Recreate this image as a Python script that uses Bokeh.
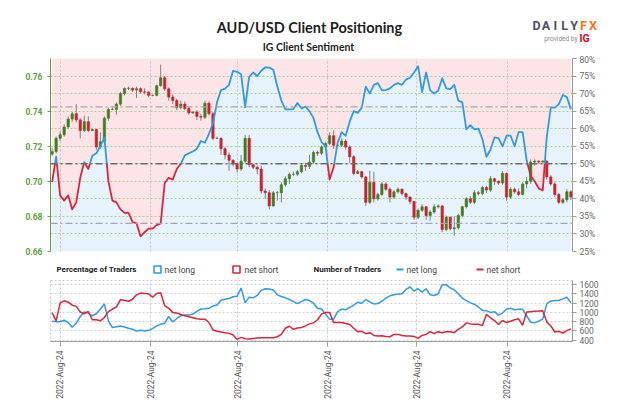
import numpy as np
from bokeh.plotting import figure
from bokeh.layouts import column
from bokeh.models import (Range1d, LinearAxis, FixedTicker, Span, Grid,
                          PrintfTickFormatter, NumeralTickFormatter)
from bokeh.core.properties import value
from bokeh.embed import file_html
from bokeh.resources import INLINE

# ---------------- data ----------------
open_ = [0.7155, 0.7170, 0.7245, 0.7265, 0.7310, 0.7355, 0.7385, 0.7350, 0.7290, 0.7340,
         0.7290, 0.7295, 0.7195, 0.7225, 0.7360, 0.7410, 0.7410, 0.7440, 0.7500, 0.7530,
         0.7530, 0.7520, 0.7528, 0.7510, 0.7508, 0.7490, 0.7490, 0.7545, 0.7590, 0.7527,
         0.7480, 0.7460, 0.7420, 0.7440, 0.7415, 0.7390, 0.7395, 0.7370, 0.7365, 0.7445,
         0.7385, 0.7245, 0.7245, 0.7185, 0.7150, 0.7120, 0.7100, 0.7070, 0.7115, 0.7245,
         0.7095, 0.7080, 0.7070, 0.6945, 0.6935, 0.6860, 0.6935, 0.6935, 0.6980, 0.7015,
         0.7040, 0.7040, 0.7055, 0.7090, 0.7085, 0.7110, 0.7165, 0.7160, 0.7195, 0.7215,
         0.7260, 0.7205, 0.7205, 0.7230, 0.7195, 0.7140, 0.7045, 0.7055, 0.7025, 0.6880,
         0.6995, 0.6900, 0.6925, 0.6985, 0.6955, 0.6910, 0.6940, 0.6955, 0.6930, 0.6910,
         0.6885, 0.6795, 0.6835, 0.6855, 0.6805, 0.6825, 0.6855, 0.6860, 0.6725, 0.6795,
         0.6730, 0.6735, 0.6805, 0.6855, 0.6900, 0.6880, 0.6935, 0.6930, 0.6965, 0.6950,
         0.7015, 0.7000, 0.6990, 0.7045, 0.6910, 0.6955, 0.6940, 0.6925, 0.6985, 0.7000,
         0.7110, 0.7115, 0.7110, 0.7115, 0.7025, 0.6985, 0.6925, 0.6880, 0.6895, 0.6940]
close = [0.7170, 0.7245, 0.7265, 0.7310, 0.7355, 0.7385, 0.7350, 0.7290, 0.7340, 0.7290,
         0.7295, 0.7195, 0.7225, 0.7360, 0.7410, 0.7410, 0.7440, 0.7500, 0.7530, 0.7530,
         0.7520, 0.7528, 0.7510, 0.7508, 0.7490, 0.7490, 0.7545, 0.7590, 0.7527, 0.7480,
         0.7460, 0.7420, 0.7440, 0.7415, 0.7390, 0.7395, 0.7370, 0.7365, 0.7445, 0.7385,
         0.7245, 0.7245, 0.7185, 0.7150, 0.7120, 0.7100, 0.7070, 0.7115, 0.7245, 0.7095,
         0.7080, 0.7070, 0.6945, 0.6935, 0.6860, 0.6935, 0.6935, 0.6980, 0.7015, 0.7040,
         0.7040, 0.7055, 0.7090, 0.7085, 0.7110, 0.7165, 0.7160, 0.7195, 0.7215, 0.7260,
         0.7205, 0.7205, 0.7230, 0.7195, 0.7140, 0.7045, 0.7055, 0.7025, 0.6880, 0.6995,
         0.6900, 0.6925, 0.6985, 0.6955, 0.6910, 0.6940, 0.6955, 0.6930, 0.6910, 0.6885,
         0.6795, 0.6835, 0.6855, 0.6805, 0.6825, 0.6855, 0.6860, 0.6725, 0.6795, 0.6730,
         0.6735, 0.6805, 0.6855, 0.6900, 0.6880, 0.6935, 0.6930, 0.6965, 0.6950, 0.7015,
         0.7000, 0.6990, 0.7045, 0.6910, 0.6955, 0.6940, 0.6925, 0.6985, 0.7000, 0.7110,
         0.7115, 0.7110, 0.7115, 0.7025, 0.6985, 0.6925, 0.6880, 0.6895, 0.6940, 0.6910]
high = [0.7190, 0.7255, 0.7285, 0.7325, 0.7370, 0.7395, 0.7440, 0.7360, 0.7375, 0.7370,
        0.7300, 0.7300, 0.7280, 0.7370, 0.7420, 0.7420, 0.7450, 0.7510, 0.7535, 0.7540,
        0.7535, 0.7540, 0.7535, 0.7530, 0.7515, 0.7495, 0.7550, 0.7665, 0.7600, 0.7535,
        0.7495, 0.7470, 0.7460, 0.7455, 0.7425, 0.7400, 0.7405, 0.7385, 0.7460, 0.7455,
        0.7395, 0.7255, 0.7250, 0.7195, 0.7165, 0.7125, 0.7105, 0.7150, 0.7265, 0.7265,
        0.7100, 0.7090, 0.7090, 0.6960, 0.6950, 0.6945, 0.6945, 0.6995, 0.7030, 0.7050,
        0.7055, 0.7065, 0.7100, 0.7105, 0.7150, 0.7175, 0.7175, 0.7205, 0.7225, 0.7280,
        0.7290, 0.7215, 0.7245, 0.7240, 0.7205, 0.7150, 0.7065, 0.7060, 0.7030, 0.7060,
        0.7055, 0.6935, 0.6995, 0.6995, 0.6965, 0.6950, 0.6965, 0.6960, 0.6935, 0.6915,
        0.6890, 0.6845, 0.6870, 0.6860, 0.6835, 0.6870, 0.6870, 0.6865, 0.6805, 0.6800,
        0.6800, 0.6815, 0.6860, 0.6910, 0.6915, 0.6950, 0.6945, 0.6975, 0.6975, 0.7030,
        0.7020, 0.7005, 0.7060, 0.7050, 0.6965, 0.6965, 0.6960, 0.6995, 0.7025, 0.7125,
        0.7125, 0.7120, 0.7120, 0.7120, 0.7035, 0.6995, 0.6935, 0.6905, 0.6955, 0.6950]
low = [0.7145, 0.7160, 0.7230, 0.7255, 0.7300, 0.7340, 0.7335, 0.7245, 0.7280, 0.7280,
       0.7285, 0.7180, 0.7185, 0.7215, 0.7345, 0.7405, 0.7380, 0.7430, 0.7490, 0.7520,
       0.7510, 0.7475, 0.7500, 0.7495, 0.7480, 0.7485, 0.7485, 0.7540, 0.7515, 0.7460,
       0.7440, 0.7405, 0.7410, 0.7405, 0.7380, 0.7385, 0.7350, 0.7345, 0.7355, 0.7375,
       0.7235, 0.7240, 0.7150, 0.7125, 0.7060, 0.7085, 0.7050, 0.7060, 0.7105, 0.7080,
       0.7070, 0.7040, 0.6930, 0.6900, 0.6840, 0.6855, 0.6890, 0.6880, 0.6970, 0.6985,
       0.7030, 0.7030, 0.7045, 0.7060, 0.7070, 0.7100, 0.7145, 0.7150, 0.7180, 0.7205,
       0.7185, 0.7195, 0.7195, 0.7180, 0.7105, 0.7035, 0.7040, 0.7015, 0.6860, 0.6870,
       0.6880, 0.6890, 0.6915, 0.6945, 0.6880, 0.6900, 0.6930, 0.6920, 0.6895, 0.6870,
       0.6780, 0.6785, 0.6825, 0.6780, 0.6775, 0.6815, 0.6845, 0.6710, 0.6715, 0.6720,
       0.6690, 0.6725, 0.6795, 0.6845, 0.6870, 0.6870, 0.6920, 0.6920, 0.6935, 0.6940,
       0.6980, 0.6980, 0.6980, 0.6890, 0.6900, 0.6930, 0.6915, 0.6920, 0.6960, 0.6985,
       0.7090, 0.7100, 0.7105, 0.7010, 0.6975, 0.6910, 0.6870, 0.6870, 0.6880, 0.6895]
net_long_pct = [44.8, 52.0, 41.0, 39.5, 41.0, 37.0, 39.0, 46.0, 50.5, 48.5,
                52.3, 53.0, 55.0, 57.5, 45.0, 39.5, 39.0, 37.0, 36.0, 36.0,
                33.4, 33.0, 29.3, 30.5, 31.5, 31.5, 32.5, 33.0, 44.5, 46.0,
                45.5, 48.5, 50.0, 52.4, 53.0, 53.5, 54.3, 56.5, 56.0, 58.5,
                61.5, 67.5, 71.0, 71.4, 72.5, 76.5, 76.2, 75.5, 66.1, 74.8,
                76.0, 75.0, 76.5, 77.5, 77.4, 76.8, 72.0, 68.0, 65.5, 65.5,
                65.6, 67.3, 65.8, 66.3, 65.0, 63.0, 59.0, 56.2, 55.0, 45.5,
                49.0, 56.0, 59.0, 58.0, 62.0, 65.0, 64.5, 66.0, 72.0, 70.0,
                72.5, 73.0, 70.9, 71.0, 71.5, 72.5, 73.0, 72.5, 74.0, 74.5,
                76.0, 77.8, 70.4, 76.0, 71.0, 70.0, 70.8, 74.4, 71.5, 71.3,
                72.5, 68.0, 67.5, 59.8, 61.0, 59.8, 60.0, 57.0, 52.0, 54.0,
                57.5, 57.3, 55.0, 58.0, 58.0, 55.0, 59.0, 59.0, 51.0, 46.5,
                45.0, 43.0, 42.4, 57.6, 66.0, 66.0, 67.0, 69.6, 69.0, 65.5]
num_long = [810, 800, 800, 830, 780, 680, 765, 912, 1007, 985,
            927, 970, 1073, 1183, 817, 671, 690, 707, 685, 656,
            634, 598, 612, 598, 612, 649, 707, 744, 766, 912,
            795, 868, 927, 941, 941, 963, 1022, 1073, 1080, 1088,
            1139, 1161, 1263, 1285, 1300, 1337, 1351, 1527, 1205, 1329,
            1315, 1366, 1476, 1512, 1505, 1483, 1380, 1344, 1315, 1278,
            1234, 1190, 1234, 1278, 1256, 1198, 1088, 1073, 963, 854,
            854, 1015, 1073, 1058, 1110, 1154, 1220, 1198, 1278, 1227,
            1183, 1190, 1241, 1307, 1358, 1380, 1395, 1402, 1497, 1549,
            1461, 1512, 1439, 1512, 1380, 1366, 1402, 1600, 1600, 1527,
            1490, 1402, 1307, 1256, 1205, 1176, 1117, 1044, 1037, 1000,
            1015, 941, 985, 1073, 1088, 1058, 1066, 1066, 927, 787,
            773, 810, 854, 1183, 1249, 1256, 1256, 1293, 1329, 1205]
num_short = [990, 817, 1205, 1250, 1220, 1155, 1130, 1007, 970, 1020,
             840, 840, 817, 890, 1015, 1073, 1117, 1278, 1256, 1241,
             1285, 1380, 1417, 1410, 1402, 1329, 1410, 1424, 1146, 1088,
             1000, 985, 956, 927, 905, 883, 861, 854, 854, 780,
             620, 590, 576, 561, 546, 510, 415, 459, 429, 422,
             437, 444, 451, 451, 451, 451, 473, 524, 656, 700,
             634, 663, 671, 707, 751, 773, 840, 963, 1000, 1000,
             780, 780, 780, 758, 737, 656, 583, 590, 539, 561,
             502, 488, 495, 480, 473, 524, 524, 502, 488, 488,
             480, 437, 502, 524, 583, 539, 583, 561, 583, 583,
             561, 634, 685, 773, 751, 744, 744, 714, 956, 883,
             824, 737, 824, 780, 810, 840, 861, 722, 1007, 1015,
             1022, 1029, 1037, 795, 707, 576, 590, 554, 605, 642]

date_ticks = [2.06, 24.5, 46.2, 68.5, 90.7, 113.2]
date_labels = ["2022-Aug-24"] * 6
price_ticks = [0.66, 0.68, 0.70, 0.72, 0.74, 0.76]
price_grid = [0.66, 0.67, 0.68, 0.69, 0.70, 0.71, 0.72, 0.73, 0.74, 0.75, 0.76, 0.77]
pct_ticks = [25, 30, 35, 40, 45, 50, 55, 60, 65, 70, 75, 80]
count_ticks = [400, 600, 800, 1000, 1200, 1400, 1600]
ref_levels = [66.2, 33.0]
title_text = "AUD/USD Client Positioning"
subtitle_text = "IG Client Sentiment"
legend_titles = ["Percentage of Traders", "Number of Traders"]
legend_items = ["net long", "net short", "net long", "net short"]

# ---------------- styles ----------------
BLUE = "#2f9be0"
RED = "#d7263d"
CG = "#3f7d20"
CR = "#cf1f2e"
PINK = "#fde4e7"
LBLUE = "#e6f3fc"
AXG = "#5f9f3c"
FONT = "Roboto"

N = len(close)
x = list(range(N))
PMIN, PMAX, QMIN, QMAX = 0.66, 0.77, 25, 80


def pct_to_price(v):
    return PMIN + (v - QMIN) * (PMAX - PMIN) / (QMAX - QMIN)


def blank(h):
    f = figure(width=624, height=h, x_range=Range1d(0, 624), y_range=Range1d(h, 0),
               output_backend="svg", toolbar_location=None, x_axis_location=None,
               y_axis_location=None, min_border=0, outline_line_color=None, title=None,
               frame_align=False)
    f.xgrid.visible = False
    f.ygrid.visible = False
    return f


# ---------------- header ----------------
hd = blank(54)
hd.text(x=[309], y=[27], text=[title_text], text_font=value("Lato"), text_font_style="bold",
        text_font_size=value("14.5px"), text_color="#1e1e1e", text_align="center",
        text_baseline="middle")
hd.text(x=[308], y=[46.5], text=[subtitle_text], text_font=value("Lato"), text_font_style="bold",
        text_font_size=value("10.5px"), text_color="#1e1e1e", text_align="center",
        text_baseline="middle")
brand = ["D", "A", "I", "L", "Y", "F", "X"]
brand_col = ["#4b5160"] * 5 + ["#f47321"] * 2
hd.text(x=[536 + j * 9.4 for j in range(7)], y=[25] * 7, text=brand, text_color=brand_col,
        text_font=value(FONT), text_font_style="bold", text_font_size=value("12.5px"),
        text_align="center", text_baseline="middle")
hd.text(x=[577], y=[38], text=["provided by"], text_font=value(FONT),
        text_font_size=value("6.5px"), text_color="#8a8a8a", text_align="right",
        text_baseline="middle")
hd.text(x=[579], y=[38], text=["IG"], text_font=value(FONT), text_font_style="bold",
        text_font_size=value("10.5px"), text_color="#e3001b", text_align="left",
        text_baseline="middle")

# ---------------- main panel ----------------
p = figure(width=624, height=204, x_range=Range1d(-0.4, N - 0.6), y_range=Range1d(PMIN, PMAX),
           output_backend="svg", toolbar_location=None, x_axis_location=None,
           min_border_left=50, min_border_right=52, min_border_top=4, min_border_bottom=7,
           outline_line_color=None, title=None)
p.extra_y_ranges = {"pct": Range1d(QMIN, QMAX)}

p.varea(x=x, y1=net_long_pct, y2=QMAX, fill_color=PINK, y_range_name="pct", level="image")
p.varea(x=x, y1=QMIN, y2=net_long_pct, fill_color=LBLUE, y_range_name="pct", level="image")

p.ygrid.ticker = FixedTicker(ticks=price_grid)
p.ygrid.grid_line_color = "#a9cf8e"
p.ygrid.grid_line_dash = "2 2"
p.xgrid.visible = False
p.add_layout(Grid(dimension=0, ticker=FixedTicker(ticks=date_ticks),
                  grid_line_color="#c4c4c4", grid_line_dash="2 2"))

ya = p.yaxis[0]
ya.ticker = FixedTicker(ticks=price_ticks)
ya.formatter = NumeralTickFormatter(format="0.00")
ya.axis_line_color = AXG
ya.major_tick_line_color = AXG
ya.major_tick_out = 3
ya.major_tick_in = 0
ya.minor_tick_line_color = None
ya.major_label_text_color = AXG
ya.major_label_text_font = FONT
ya.major_label_text_font_style = "bold"
ya.major_label_text_font_size = "8.5px"
ya.major_label_standoff = 5

ra = LinearAxis(y_range_name="pct", ticker=FixedTicker(ticks=pct_ticks),
                formatter=PrintfTickFormatter(format="%d%%"))
ra.axis_line_color = "#9a9a9a"
ra.major_tick_line_color = "#9a9a9a"
ra.major_tick_out = 4
ra.major_tick_in = 0
ra.minor_tick_line_color = None
ra.major_label_text_color = "#666666"
ra.major_label_text_font = FONT
ra.major_label_text_font_size = "8.5px"
ra.major_label_standoff = 3
p.add_layout(ra, "right")

# candles
body_colors = [CG if c >= o else CR for o, c in zip(open_, close)]
p.segment(x0=x, y0=high, x1=x, y1=low, line_color="#808080", line_width=1)
p.vbar(x=x, top=open_, bottom=close, width=0.58, fill_color=body_colors,
       line_color=body_colors, line_width=0.6)

# net-long % line, red below 50 %, blue above
xs_runs, ys_runs, col_runs = [], [], []
cx, cy = [float(x[0])], [net_long_pct[0]]
cs = net_long_pct[0] >= 50
for k in range(1, N):
    s = net_long_pct[k] >= 50
    if s == cs:
        cx.append(float(x[k])); cy.append(net_long_pct[k])
    else:
        a, bb = net_long_pct[k - 1], net_long_pct[k]
        xc = x[k - 1] + (50 - a) / (bb - a)
        cx.append(xc); cy.append(50.0)
        xs_runs.append(cx); ys_runs.append(cy); col_runs.append(BLUE if cs else RED)
        cx, cy, cs = [xc, float(x[k])], [50.0, bb], s
xs_runs.append(cx); ys_runs.append(cy); col_runs.append(BLUE if cs else RED)
p.multi_line(xs=xs_runs, ys=ys_runs, line_color=col_runs, line_width=1.8,
             y_range_name="pct", line_join="round")

p.add_layout(Span(location=pct_to_price(50), dimension="width", line_color="#6a6a6a",
                  line_dash="7 3 2 3", line_width=1.3))
for lv in ref_levels:
    p.add_layout(Span(location=pct_to_price(lv), dimension="width", line_color="#a5a5a5",
                      line_dash="7 3 2 3", line_width=1.2))

# ---------------- legend row ----------------
lg = blank(20)
ly = 11
lg.text(x=[56, 313], y=[ly, ly], text=legend_titles,
        text_font=value(FONT), text_font_style="bold", text_font_size=value("8px"),
        text_color="#222222", text_baseline="middle")
lg.text(x=[164, 244, 406, 486], y=[ly] * 4, text=legend_items,
        text_font=value(FONT), text_font_size=value("8.5px"), text_color="#444444",
        text_baseline="middle")
lg.rect(x=[157, 236], y=[ly, ly], width=7, height=7, fill_color="white",
        line_color=[BLUE, RED], line_width=1.6)
lg.segment(x0=[396, 476], y0=[ly, ly], x1=[403, 483], y1=[ly, ly],
           line_color=[BLUE, RED], line_width=2)

# ---------------- bottom panel ----------------
b = figure(width=624, height=138, x_range=p.x_range, y_range=Range1d(370, 1690),
           output_backend="svg", toolbar_location=None, y_axis_location="right",
           x_axis_location="below", min_border_left=50, min_border_right=52,
           min_border_top=2, min_border_bottom=75, title=None,
           outline_line_color="#c8c8c8", outline_line_dash="2 2")
b.ygrid.ticker = FixedTicker(ticks=count_ticks)
b.ygrid.grid_line_color = "#d0d0d0"
b.ygrid.grid_line_dash = "2 2"
b.xgrid.ticker = FixedTicker(ticks=date_ticks)
b.xgrid.grid_line_color = "#c8c8c8"
b.xgrid.grid_line_dash = "2 2"

b.line(x, num_long, line_color=BLUE, line_width=1.5)
b.line(x, num_short, line_color=RED, line_width=1.5)

bx = b.xaxis[0]
bx.ticker = FixedTicker(ticks=date_ticks)
bx.major_label_overrides = {t: l for t, l in zip(date_ticks, date_labels)}
bx.major_label_orientation = np.pi / 2
bx.axis_line_color = "#a0a0a0"
bx.major_tick_line_color = "#a0a0a0"
bx.major_tick_out = 5
bx.major_tick_in = 0
bx.minor_tick_line_color = None
bx.major_label_text_font = FONT
bx.major_label_text_font_size = "8.5px"
bx.major_label_text_color = "#555555"
bx.major_label_standoff = 4

by = b.yaxis[0]
by.ticker = FixedTicker(ticks=count_ticks)
by.axis_line_color = "#9a9a9a"
by.major_tick_line_color = "#9a9a9a"
by.major_tick_out = 4
by.major_tick_in = 0
by.minor_tick_line_color = None
by.major_label_text_color = "#666666"
by.major_label_text_font = FONT
by.major_label_text_font_size = "8.5px"
by.major_label_standoff = 3

layout = column(hd, p, lg, b, spacing=0)
open("out.html", "w").write(file_html(layout, INLINE))
